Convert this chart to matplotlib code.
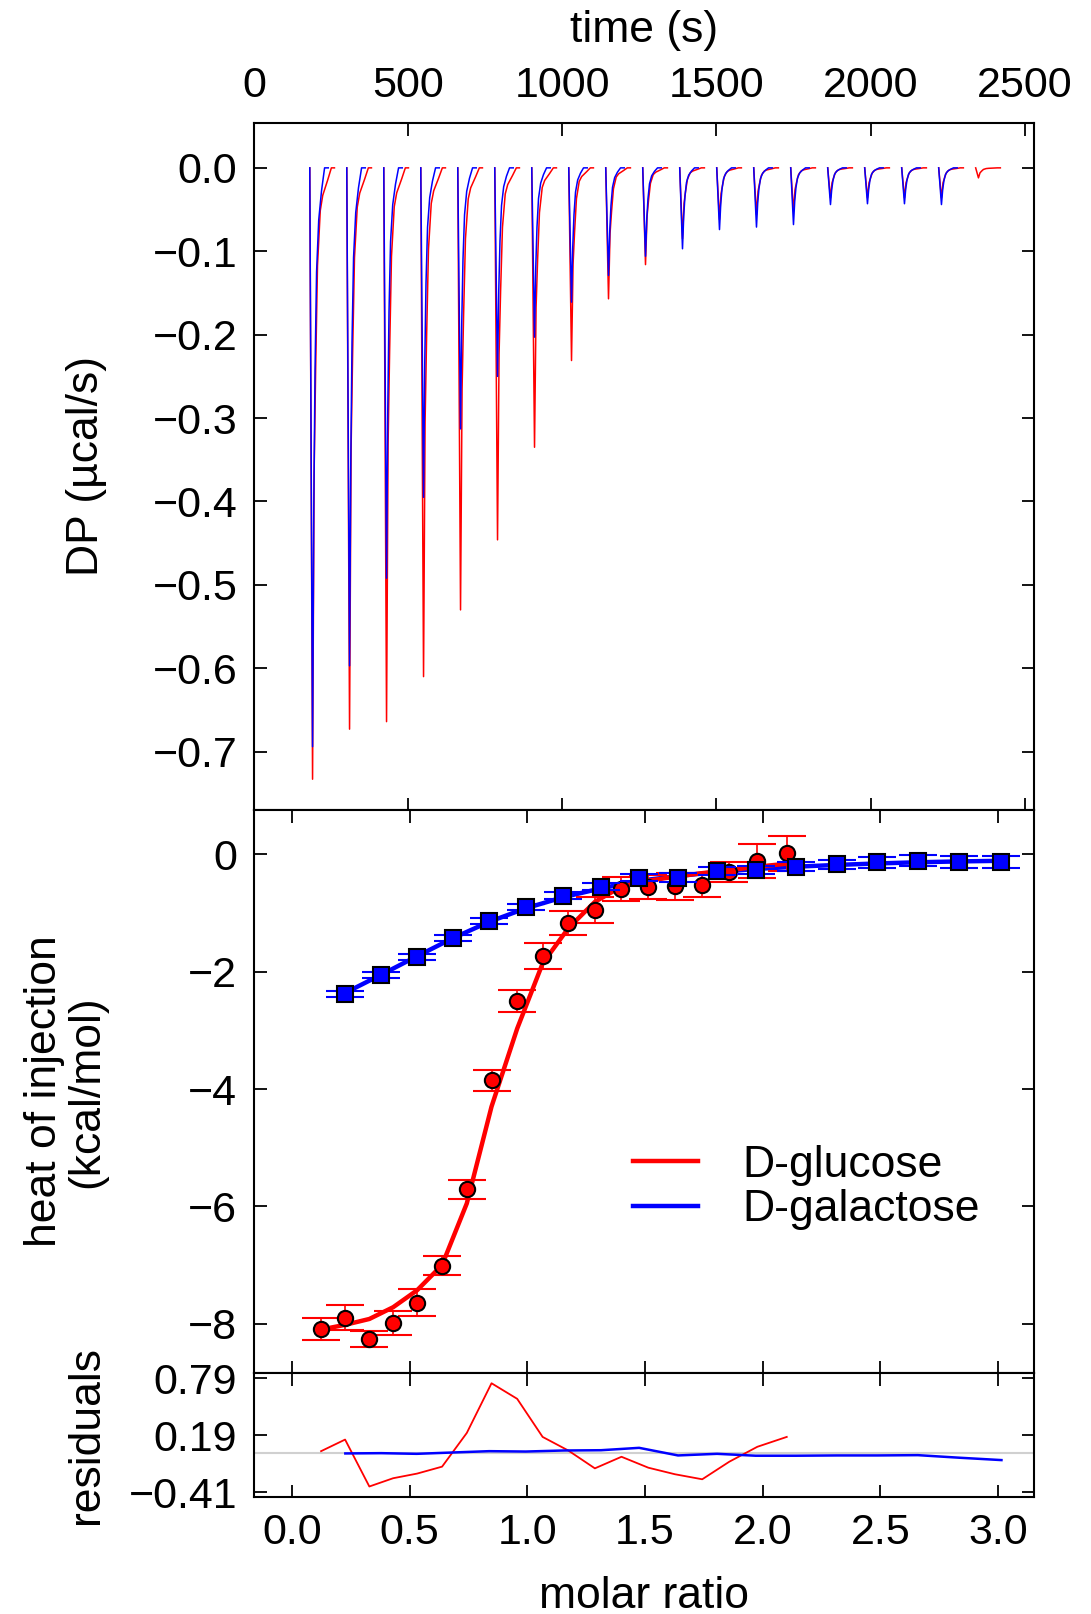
import numpy as np
import matplotlib
matplotlib.use("Agg")
import matplotlib.pyplot as plt
from matplotlib.lines import Line2D

plt.rcParams['font.family'] = ['Liberation Sans', 'DejaVu Sans']

# ---- thermogram (top panel) ----
# injection start times (s)
glc_inj_t = [181, 301, 421, 541, 661, 781, 901, 1021, 1141, 1261, 1381, 1501,
             1621, 1741, 1861, 1981, 2101, 2221, 2341]
gal_inj_t = [181, 301, 421, 541, 661, 781, 901, 1021, 1141, 1261, 1381, 1501,
             1621, 1741, 1861, 1981, 2101, 2221]
# peak minimum of every injection (ucal/s)
glc_peak = [-0.733, -0.673, -0.664, -0.610, -0.530, -0.446, -0.335, -0.231,
            -0.157, -0.116, -0.085, -0.062, -0.056, -0.052, -0.036, -0.036,
            -0.036, -0.036, -0.012]
gal_peak = [-0.694, -0.597, -0.492, -0.395, -0.313, -0.250, -0.203, -0.161,
            -0.129, -0.106, -0.097, -0.074, -0.071, -0.068, -0.044, -0.043,
            -0.043, -0.044]
# shape of one peak: time after injection (s) and fraction of the peak depth
gal_shape_t = [0, 9, 13, 17, 22, 29, 38, 48, 60]
gal_shape_f = [0, 1.0, 0.59, 0.35, 0.18, 0.09, 0.04, 0.0, 0.0]
glc_shape_t = [0, 9, 14, 19, 25, 34, 42, 58, 70, 80]
glc_shape_f = [0, 1.0, 0.50, 0.33, 0.16, 0.07, 0.045, 0.02, 0.0, 0.0]

# ---- integrated heats (middle panel) ----
glc_ratio = [0.124, 0.226, 0.329, 0.430, 0.532, 0.638, 0.743, 0.848, 0.957, 1.065,
             1.174, 1.287, 1.400, 1.514, 1.627, 1.743, 1.858, 1.977, 2.102]
glc_heat = [-8.09, -7.90, -8.26, -7.99, -7.64, -7.01, -5.71, -3.85, -2.50, -1.73,
            -1.17, -0.95, -0.59, -0.56, -0.54, -0.525, -0.296, -0.11, 0.016]
glc_err = [0.18, 0.21, 0.14, 0.21, 0.23, 0.16, 0.16, 0.18, 0.18, 0.22,
           0.21, 0.22, 0.20, 0.20, 0.23, 0.21, 0.17, 0.29, 0.30]
glc_fit = [-8.10, -8.02, -7.92, -7.72, -7.43, -7.00, -5.95, -4.30, -2.97, -1.86,
           -1.26, -0.81, -0.55, -0.45, -0.38, -0.32, -0.27, -0.21, -0.16]

gal_ratio = [0.227, 0.380, 0.530, 0.683, 0.838, 0.993, 1.153, 1.313, 1.475, 1.640,
             1.806, 1.970, 2.142, 2.316, 2.487, 2.659, 2.835, 3.014]
gal_heat = [-2.38, -2.06, -1.75, -1.42, -1.13, -0.90, -0.705, -0.552, -0.395, -0.395,
            -0.29, -0.268, -0.211, -0.171, -0.137, -0.108, -0.125, -0.125]
gal_err = [0.05, 0.05, 0.05, 0.05, 0.05, 0.05, 0.06, 0.06, 0.06, 0.07,
           0.07, 0.07, 0.08, 0.08, 0.09, 0.09, 0.10, 0.10]
gal_fit = [-2.36, -2.05, -1.74, -1.43, -1.15, -0.92, -0.73, -0.58, -0.45, -0.37,
           -0.30, -0.25, -0.21, -0.18, -0.155, -0.135, -0.12, -0.11]

# ---- residuals (bottom panel) ----
glc_resid = [0.023, 0.145, -0.349, -0.262, -0.213, -0.140, 0.215, 0.738, 0.574, 0.173,
             0.030, -0.158, -0.036, -0.151, -0.220, -0.273, -0.088, 0.069, 0.173]
gal_resid = [-0.001, 0.002, -0.005, 0.009, 0.023, 0.019, 0.030, 0.033, 0.058, -0.022,
             -0.005, -0.025, -0.025, -0.022, -0.022, -0.019, -0.046, -0.071]

RED = '#ff0000'
BLUE = '#0000ff'
FS = 32      # axis labels and legend
TFS = 31     # tick labels

fig = plt.figure(figsize=(10.91, 16.14), dpi=100)
ax1 = fig.add_axes([0.2328, 0.4981, 0.7149, 0.4258])
ax2 = fig.add_axes([0.2328, 0.1495, 0.7149, 0.3486])
ax3 = fig.add_axes([0.2328, 0.0727, 0.7149, 0.0768])

for ax in (ax1, ax2, ax3):
    for sp in ax.spines.values():
        sp.set_linewidth(1.5)
    ax.tick_params(which='both', direction='in', top=True, right=True,
                   length=9, width=1.3, labelsize=TFS, pad=12)

# top panel
for t0, depth in zip(glc_inj_t, glc_peak):
    ax1.plot(t0 + np.array(glc_shape_t), depth * np.array(glc_shape_f),
             color=RED, lw=1.1)
for t0, depth in zip(gal_inj_t, gal_peak):
    ax1.plot(t0 + np.array(gal_shape_t), depth * np.array(gal_shape_f),
             color=BLUE, lw=1.1)
ax1.set_xlim(0, 2530)
ax1.set_ylim(-0.770, 0.054)
ax1.set_xticks([0, 500, 1000, 1500, 2000, 2500])
ax1.set_yticks([0.0, -0.1, -0.2, -0.3, -0.4, -0.5, -0.6, -0.7])
ax1.set_yticklabels(['0.0', '\u22120.1', '\u22120.2', '\u22120.3', '\u22120.4',
                     '\u22120.5', '\u22120.6', '\u22120.7'])
ax1.tick_params(labeltop=True, labelbottom=False)
ax1.xaxis.set_label_position('top')
ax1.set_xlabel('time (s)', fontsize=FS)
ax1.xaxis.set_label_coords(0.5, 1.117)
ax1.set_ylabel('DP (\u00b5cal/s)', fontsize=FS)
ax1.yaxis.set_label_coords(-0.188, 0.5)

# middle panel
ax2.plot(gal_ratio, gal_fit, color=BLUE, lw=3.2, zorder=2)
ax2.plot(glc_ratio, glc_fit, color=RED, lw=3.2, zorder=2)
ax2.errorbar(glc_ratio, glc_heat, yerr=glc_err, fmt='o', color=RED,
             mfc=RED, mec='black', mew=1.5, ms=11, ecolor=RED,
             elinewidth=1.2, capsize=13.5, capthick=1.2, zorder=3)
ax2.errorbar(gal_ratio, gal_heat, yerr=gal_err, fmt='s', color=BLUE,
             mfc=BLUE, mec='black', mew=1.5, ms=11, ecolor=BLUE,
             elinewidth=1.2, capsize=13.5, capthick=1.2, zorder=4)
ax2.set_xlim(-0.161, 3.152)
ax2.set_ylim(-8.836, 0.755)
ax2.set_xticks([0.0, 0.5, 1.0, 1.5, 2.0, 2.5, 3.0])
ax2.set_yticks([0, -2, -4, -6, -8])
ax2.set_yticklabels(['0', '\u22122', '\u22124', '\u22126', '\u22128'])
ax2.tick_params(labelbottom=False)
ax2.set_ylabel('heat of injection\n(kcal/mol)', fontsize=FS, linespacing=1.05)
ax2.yaxis.set_label_coords(-0.188, 0.5)
handles = [Line2D([], [], color=RED, lw=3.2), Line2D([], [], color=BLUE, lw=3.2)]
ax2.legend(handles, ['D-glucose', 'D-galactose'], loc='upper left',
           bbox_to_anchor=(0.486, 0.405), frameon=False, fontsize=FS,
           handlelength=1.46, handletextpad=1.0, labelspacing=0.08,
           borderpad=0, borderaxespad=0)

# residual panel
ax3.axhline(0, color='#d0d0d0', lw=1.5, zorder=1)
ax3.plot(glc_ratio, glc_resid, color=RED, lw=1.3, zorder=2)
ax3.plot(gal_ratio, gal_resid, color=BLUE, lw=1.8, zorder=3)
ax3.set_xlim(-0.161, 3.152)
ax3.set_ylim(-0.456, 0.849)
ax3.set_xticks([0.0, 0.5, 1.0, 1.5, 2.0, 2.5, 3.0])
ax3.set_xticklabels(['0.0', '0.5', '1.0', '1.5', '2.0', '2.5', '3.0'])
ax3.set_yticks([0.79, 0.19, -0.41])
ax3.set_yticklabels(['0.79', '0.19', '\u22120.41'])
ax3.set_xlabel('molar ratio', fontsize=FS)
ax3.xaxis.set_label_coords(0.5, -0.64)
ax3.set_ylabel('residuals', fontsize=FS)
ax3.yaxis.set_label_coords(-0.188, 0.5)

fig.savefig('out.png', dpi=100)
